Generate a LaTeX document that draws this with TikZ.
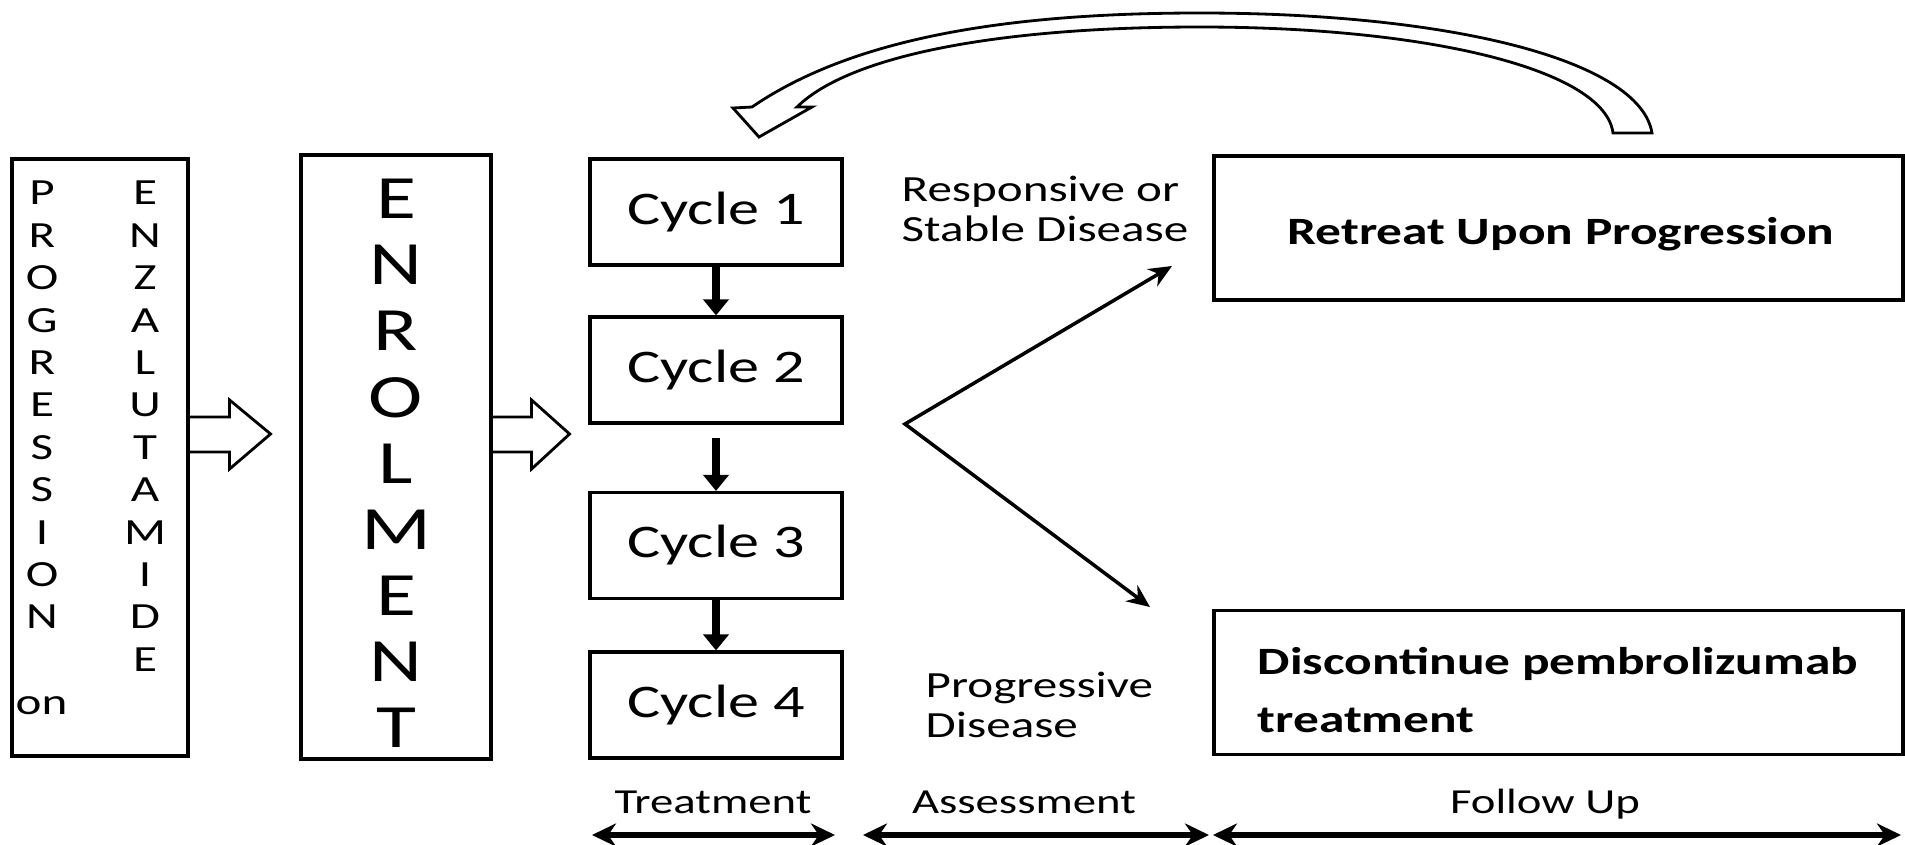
\documentclass[tikz,border=0pt]{standalone}
\usepackage{fontspec}
\setmainfont{Carlito}[FakeStretch=1.33]
\usetikzlibrary{arrows.meta}

\tikzset{
  box/.style={draw, line width=0.9pt, inner sep=0pt},
  cyclebox/.style={box, minimum width=25.2mm, minimum height=10.6mm, font=\fontsize{13.3}{16}\selectfont},
  outcome/.style={box, minimum width=68.9mm, minimum height=14.4mm},
  outcometext/.style={inner sep=0pt, align=left, font=\bfseries\fontsize{11}{16.5}\selectfont},
  letter/.style={inner sep=0pt, font=\fontsize{10.5}{12}\selectfont},
  bigletter/.style={inner sep=0pt, font=\fontsize{17.5}{20}\selectfont},
  note/.style={inner sep=0pt, align=left, font=\fontsize{10.5}{11.5}\selectfont},
  phase/.style={inner sep=0pt, font=\fontsize{10}{12}\selectfont},
  cyclearrow/.style={line width=2.1pt, -{Triangle[length=1.6mm,width=2.5mm]}},
  branch/.style={line width=1pt, {Stealth[length=2.3mm,width=2mm]}-{Stealth[length=2.3mm,width=2mm]}},
  span/.style={line width=1.8pt, {Stealth[length=2.4mm,width=2.3mm]}-{Stealth[length=2.4mm,width=2.3mm]}},
  blockarrow/.style={line width=0.8pt, line join=miter}
}

\begin{document}
\begin{tikzpicture}[x=0.1mm, y=-0.1mm]
    \useasboundingbox (0,0) rectangle (1905,845);
    %% progression on enzalutamide
    \node[box, minimum width=17.6mm, minimum height=59.7mm] (progbox) at (100,457.5) {};
    \foreach \ch [count=\i] in {P,R,O,G,R,E,S,S,I,O,N}
        \node[letter] (p\i) at (42,{193+42.4*(\i-1)}) {\ch};
    \foreach \ch [count=\i] in {E,N,Z,A,L,U,T,A,M,I,D,E}
        \node[letter] (e\i) at (145,{193+42.4*(\i-1)}) {\ch};
    \node[letter, anchor=west] (on) at (15,706) {on};
    \draw[blockarrow] (progbox.east |- 0,417) -- ++(40,0) -- ++(0,-17) -- ++(41,34)
        -- ++(-41,35) -- ++(0,-17) -- ++(-40,0);
    %% enrolment
    \node[box, minimum width=19mm, minimum height=60.4mm] (enrol) at (396,457) {};
    \foreach \ch [count=\i] in {E,N,R,O,L,M,E,N,T}
        \node[bigletter] (n\i) at (396,{199+66.1*(\i-1)}) {\ch};
    \draw[blockarrow] (enrol.east |- 0,417) -- ++(39,0) -- ++(0,-17) -- ++(38,34)
        -- ++(-38,35) -- ++(0,-17) -- ++(-39,0);
    %% treatment cycles
    \node[cyclebox] (cyc1) at (716,212) {Cycle 1};
    \node[cyclebox] (cyc2) at (716,370) {Cycle 2};
    \node[cyclebox] (cyc3) at (716,545.5) {Cycle 3};
    \node[cyclebox] (cyc4) at (716,705) {Cycle 4};
    \draw[cyclearrow] (cyc1) -- (cyc2);
    \draw[cyclearrow, shorten <=1.3mm] (cyc2) -- (cyc3);
    \draw[cyclearrow] (cyc3) -- (cyc4);
    %% assessment
    \node[note, anchor=west] (resp) at (901,209) {Responsive or\\Stable Disease};
    \node[note, anchor=west] (progd) at (925,705) {Progressive\\Disease};
    \coordinate (fork) at (905,424);
    \coordinate (upend) at (1172,266);
    \coordinate (downend) at (1150,607);
    \draw[branch] (upend) -- (fork) -- (downend);
    %% follow up
    \node[outcome] (retreat) at (1558.5,228) {};
    \node[outcometext] (retreattext) at (1561,234) {Retreat Upon Progression};
    \node[outcome] (discont) at (1558.5,682.5) {};
    \node[outcometext, anchor=west] (discontext) at (1257,690) {Discontinue pembrolizumab\\treatment};
    \draw[blockarrow] (752,107) .. controls (850,40) and (1000,13) .. (1200,13)
        .. controls (1450,13) and (1640,60) .. (1652,133) -- (1613,133)
        .. controls (1605,70) and (1430,27) .. (1200,27)
        .. controls (1000,27) and (850,55) .. (797,107)
        -- (812,107) -- (759,137) -- (733,108) -- cycle;
    %% phases
    \node[phase, anchor=base] (treat) at (713,813) {Treatment};
    \node[phase, anchor=base] (assess) at (1024,813) {Assessment};
    \node[phase, anchor=base] (follow) at (1545,813) {Follow Up};
    \draw[span] (592,835) -- (835,835);
    \draw[span] (863,835) -- (1209,835);
    \draw[span] (1213,835) -- (1901,835);
\end{tikzpicture}
\end{document}
